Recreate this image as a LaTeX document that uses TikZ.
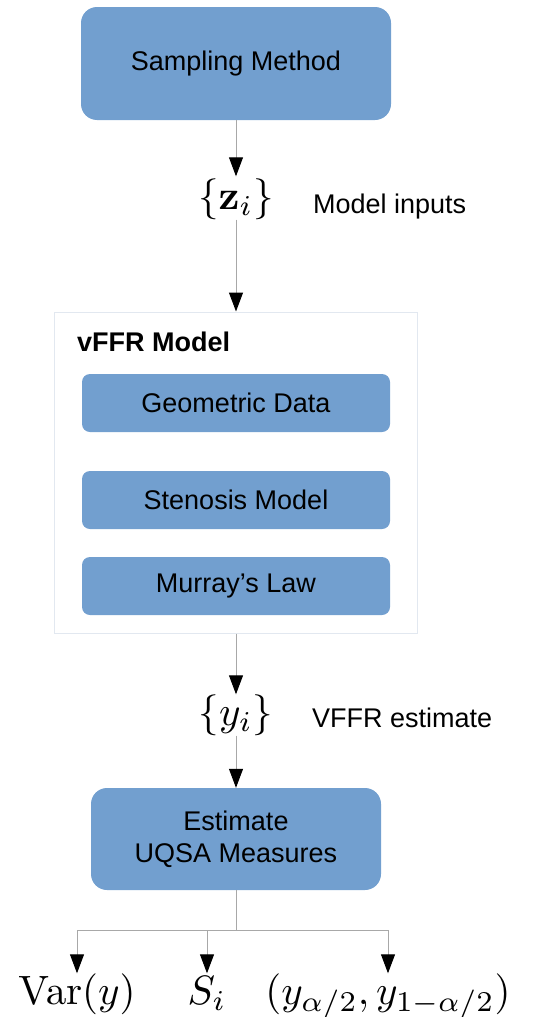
\documentclass[tikz,border=0pt]{standalone}
\usepackage{amsmath}
\usepackage{graphicx}
\usepackage[no-math]{fontspec}
\setmainfont{Liberation Sans}
\usetikzlibrary{arrows.meta}
\definecolor{boxblue}{HTML}{729FCF}
\definecolor{linegray}{HTML}{A8A8A8}
\definecolor{framegray}{HTML}{E2E8F0}
\newcommand{\bigmath}[1]{\scalebox{4.1}{$#1$}}
\begin{document}
\begin{tikzpicture}[x=1pt,y=-1pt,
  bigbox/.style={fill=boxblue, rounded corners=16pt, font=\fontsize{27}{32}\selectfont, align=center, inner sep=0pt},
  subbox/.style={fill=boxblue, rounded corners=8pt, minimum width=308pt, minimum height=58pt, font=\fontsize{27}{32}\selectfont, inner sep=0pt},
  lab/.style={font=\fontsize{27}{32}\selectfont, inner sep=0pt},
  mathlab/.style={inner sep=0pt, text height=31pt, text depth=10pt},
  conn/.style={draw=linegray, line width=1pt},
  arr/.style={conn, -{Triangle[length=19pt,width=14pt,color=black]}}
]
\useasboundingbox (0,0) rectangle (538,1017);
% top box
\node[bigbox, minimum width=310pt, minimum height=113pt] (samp) at (236,63.5) {Sampling Method};
\node[mathlab] (zi) at (236,199) {\bigmath{\{\mathbf{z}_i\}}};
\node[lab, anchor=base west] (zlab) at (313,213) {Model inputs};
% container
\node[draw=framegray, line width=1pt, minimum width=363pt, minimum height=321pt, inner sep=0pt] (vffr) at (236,472.5) {};
\node[lab, anchor=base west, font=\fontsize{27}{32}\selectfont\bfseries] (vlab) at (77,351) {vFFR Model};
\node[subbox] (geo) at (236,403) {Geometric Data};
\node[subbox] (sten) at (236,500) {Stenosis Model};
\node[subbox] (mur) at (236,586) {Murray’s Law};
% output
\node[mathlab] (yi) at (236,715) {\bigmath{\{y_i\}}};
\node[lab, anchor=base west] (ylab) at (312,727) {VFFR estimate};
\node[bigbox, minimum width=290pt, minimum height=102pt] (est) at (236,839) {Estimate\\UQSA Measures};
\coordinate (j) at (236,930);
\node[mathlab] (var) at (77,994) {\bigmath{\mathrm{Var}(y)}};
\node[mathlab] (si) at (207,994) {\bigmath{S_i}};
\node[mathlab] (ci) at (388,994) {\bigmath{(y_{\alpha/2},y_{1-\alpha/2})}};
% connectors
\draw[arr, shorten >=2pt] (samp) -- (zi);
\draw[arr] (zi) -- (vffr);
\draw[arr] (vffr) -- (yi);
\draw[arr] (yi) -- (est);
\draw[conn] (est) -- (j);
\draw[arr] (j) -| (var);
\draw[arr] (j) -| (si);
\draw[arr] (j) -| (ci);
\end{tikzpicture}
\end{document}
